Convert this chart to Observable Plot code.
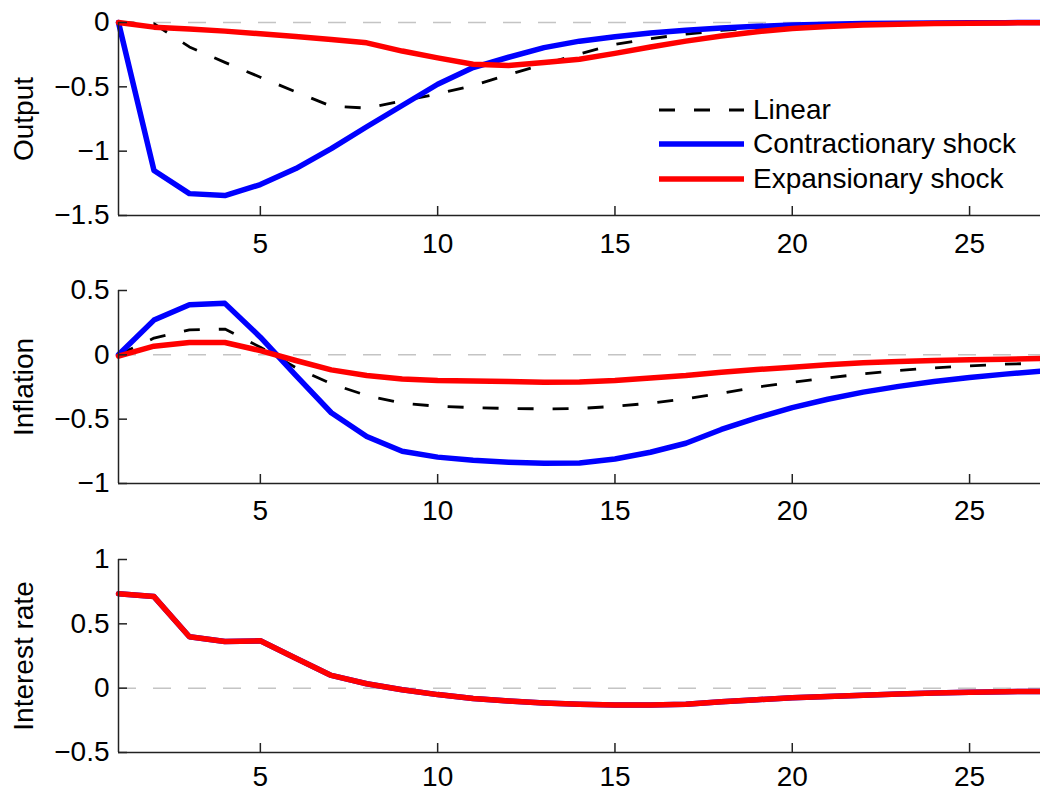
<!DOCTYPE html>
<html>
<head>
<meta charset="utf-8">
<script src="https://cdn.jsdelivr.net/npm/d3@7"></script>
<script src="https://cdn.jsdelivr.net/npm/@observablehq/plot@0.6"></script>
<style>
  html, body { margin: 0; padding: 0; background: #fff; }
  #wrap { position: relative; width: 1040px; height: 792px; overflow: hidden; font-family: 'Liberation Sans', Arial, Helvetica, sans-serif; }
  #wrap svg { display: block; }
  #legend { position: absolute; left: 659px; top: 93px; font-size: 28px; color: #000; }
  #legend .row { display: flex; align-items: center; height: 34.3px; line-height: 34px; white-space: nowrap; }
  #legend .row span { margin-left: 9px; }
</style>
</head>
<body>
<div id="wrap"></div>
<script>
// ---- data ----
const steps = [1,2,3,4,5,6,7,8,9,10,11,12,13,14,15,16,17,18,19,20,21,22,23,24,25,26,27];
const xTicks = [5, 10, 15, 20, 25];

const seriesNames = ["Linear", "Contractionary shock", "Expansionary shock"];

const outputLinear = [0, -0.01, -0.19, -0.31, -0.425, -0.54, -0.65, -0.665, -0.61, -0.555, -0.49, -0.405, -0.325, -0.245, -0.17, -0.125, -0.09, -0.062, -0.042, -0.028, -0.018, -0.011, -0.007, -0.004, -0.002, -0.001, 0];
const outputContr  = [0, -1.15, -1.33, -1.345, -1.26, -1.135, -0.98, -0.81, -0.645, -0.48, -0.35, -0.27, -0.195, -0.145, -0.11, -0.082, -0.06, -0.042, -0.03, -0.02, -0.013, -0.008, -0.005, -0.003, -0.002, -0.001, 0];
const outputExp    = [0, -0.036, -0.05, -0.067, -0.088, -0.109, -0.132, -0.158, -0.222, -0.275, -0.325, -0.335, -0.31, -0.285, -0.24, -0.19, -0.145, -0.105, -0.072, -0.046, -0.032, -0.02, -0.013, -0.008, -0.005, -0.003, -0.002];
const outputTicks  = [0, -0.5, -1, -1.5];

const inflLinear = [0, 0.13, 0.194, 0.2, 0.059, -0.1, -0.225, -0.316, -0.376, -0.4, -0.41, -0.417, -0.42, -0.417, -0.4, -0.376, -0.342, -0.298, -0.251, -0.213, -0.179, -0.148, -0.122, -0.101, -0.086, -0.073, -0.065];
const inflContr  = [0, 0.27, 0.39, 0.40, 0.137, -0.16, -0.45, -0.635, -0.75, -0.795, -0.82, -0.834, -0.842, -0.84, -0.81, -0.757, -0.687, -0.58, -0.49, -0.41, -0.345, -0.29, -0.245, -0.208, -0.177, -0.15, -0.127];
const inflExp    = [-0.01, 0.067, 0.096, 0.096, 0.033, -0.044, -0.117, -0.161, -0.187, -0.2, -0.204, -0.208, -0.213, -0.212, -0.2, -0.18, -0.161, -0.135, -0.114, -0.096, -0.078, -0.062, -0.052, -0.044, -0.039, -0.034, -0.029];
const inflTicks  = [0.5, 0, -0.5, -1];

const rateLinear = [0.733, 0.712, 0.40, 0.363, 0.368, 0.233, 0.099, 0.034, -0.012, -0.05, -0.08, -0.1, -0.115, -0.125, -0.13, -0.13, -0.125, -0.105, -0.09, -0.075, -0.065, -0.055, -0.045, -0.038, -0.032, -0.027, -0.025];
const rateContr  = [0.733, 0.712, 0.40, 0.363, 0.368, 0.233, 0.099, 0.034, -0.012, -0.05, -0.08, -0.1, -0.115, -0.125, -0.13, -0.13, -0.125, -0.105, -0.09, -0.075, -0.065, -0.055, -0.045, -0.038, -0.032, -0.027, -0.025];
const rateExp    = [0.733, 0.712, 0.40, 0.363, 0.368, 0.233, 0.099, 0.034, -0.012, -0.05, -0.08, -0.1, -0.115, -0.125, -0.13, -0.13, -0.125, -0.105, -0.09, -0.075, -0.065, -0.055, -0.045, -0.038, -0.032, -0.027, -0.025];
const rateTicks  = [1, 0.5, 0, -0.5];

// ---- drawing ----
const W = 1040, H = 264, ML = 118;
const FONT = "'Liberation Sans', Arial, Helvetica, sans-serif";
const AX = "#222";
const fmt = d3.format("");

function toRows(vals) { return steps.map((t, i) => ({t, v: vals[i]})); }

function panel({label, lin, con, exp, yDomain, yTicks, marginTop, marginBottom, xPad}) {
  const innerW = W - ML;
  const innerH = H - marginTop - marginBottom;
  return Plot.plot({
    width: W, height: H,
    marginLeft: ML, marginRight: 0, marginTop, marginBottom,
    style: {fontFamily: FONT, fontSize: "28px", color: "#000", background: "#fff", overflow: "visible"},
    x: {domain: [1, 27], label: null},
    y: {domain: yDomain, label: null},
    marks: [
      Plot.ruleY([0], {stroke: "#c4c4c4", strokeWidth: 1.5, strokeDasharray: "18,17"}),
      Plot.line(toRows(lin), {x: "t", y: "v", stroke: "#000", strokeWidth: 2.8, strokeDasharray: "16,19", strokeLinecap: "butt"}),
      Plot.line(toRows(con), {x: "t", y: "v", stroke: "#0000ff", strokeWidth: 5.5, strokeLinejoin: "round"}),
      Plot.line(toRows(exp), {x: "t", y: "v", stroke: "#ff0000", strokeWidth: 5.5, strokeLinejoin: "round"}),
      Plot.ruleX([1], {stroke: AX, strokeWidth: 1.5}),
      Plot.ruleY([yDomain[0]], {stroke: AX, strokeWidth: 1.5}),
      Plot.tickY(yTicks, {y: d => d, stroke: AX, strokeWidth: 1.5, insetRight: innerW - 9}),
      Plot.tickX(xTicks, {x: d => d, stroke: AX, strokeWidth: 1.5, insetTop: innerH - 9}),
      Plot.axisX(xTicks, {tickSize: 0, tickPadding: xPad, label: null, fill: "#000", tickFormat: fmt}),
      Plot.axisY(yTicks, {tickSize: 0, tickPadding: 9, label: null, fill: "#000", tickFormat: fmt}),
      Plot.text([label], {frameAnchor: "left", dx: -94, rotate: -90, lineAnchor: "middle", textAnchor: "middle", fontSize: 28, fill: "#000"})
    ]
  });
}

const wrap = document.getElementById("wrap");
wrap.appendChild(panel({label: "Output", lin: outputLinear, con: outputContr, exp: outputExp,
  yDomain: [-1.5, 0], yTicks: outputTicks, marginTop: 22, marginBottom: 49, xPad: 18}));
wrap.appendChild(panel({label: "Inflation", lin: inflLinear, con: inflContr, exp: inflExp,
  yDomain: [-1, 0.5], yTicks: inflTicks, marginTop: 26, marginBottom: 45, xPad: 17}));
wrap.appendChild(panel({label: "Interest rate", lin: rateLinear, con: rateContr, exp: rateExp,
  yDomain: [-0.5, 1], yTicks: rateTicks, marginTop: 31, marginBottom: 40, xPad: 14}));

// legend
const legend = document.createElement("div");
legend.id = "legend";
const styles = [
  {stroke: "#000", width: 2.8, dash: "16,19"},
  {stroke: "#0000ff", width: 5.5, dash: null},
  {stroke: "#ff0000", width: 5.5, dash: null}
];
seriesNames.forEach((name, i) => {
  const row = document.createElement("div");
  row.className = "row";
  const s = styles[i];
  row.innerHTML = `<svg width="85" height="34" style="display:block"><line x1="0" x2="85" y1="17" y2="17" stroke="${s.stroke}" stroke-width="${s.width}" ${s.dash ? `stroke-dasharray="${s.dash}"` : ""}/></svg><span>${name}</span>`;
  legend.appendChild(row);
});
wrap.appendChild(legend);
</script>
</body>
</html>
